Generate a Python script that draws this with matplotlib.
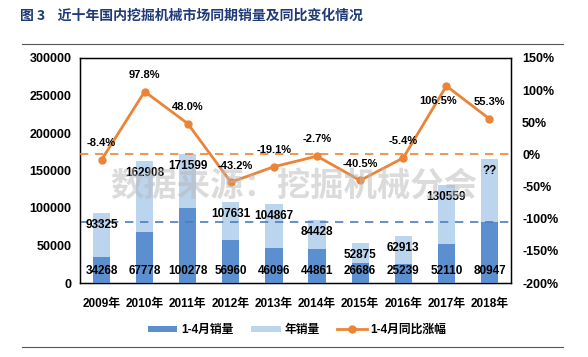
import matplotlib
matplotlib.use("Agg")
import matplotlib.pyplot as plt
import numpy as np

# data
years = ["2009年", "2010年", "2011年", "2012年", "2013年", "2014年", "2015年", "2016年", "2017年", "2018年"]
jan_apr_sales = [34268, 67778, 100278, 56960, 46096, 44861, 26686, 25239, 52110, 80947]
annual_sales = [93325, 162908, 171599, 107631, 104867, 84428, 52875, 62913, 130559, 165000]
annual_labels = ["93325", "162908", "171599", "107631", "104867", "84428", "52875", "62913", "130559", "??"]
yoy_growth = [-8.4, 97.8, 48.0, -43.2, -19.1, -2.7, -40.5, -5.4, 106.5, 55.3]

FONT = ["Liberation Sans", "Noto Sans CJK SC", "DejaVu Sans"]
plt.rcParams["font.family"] = FONT

DARK = "#5B8FD0"
LIGHT = "#BCD5EE"
ORANGE = "#EB8436"

fig = plt.figure(figsize=(5.88, 3.57), dpi=100)
ax = fig.add_axes([80 / 588, 1 - 283 / 357, 431 / 588, 225 / 357])
ax2 = ax.twinx()

x = np.arange(len(years))
w = 0.4
ax.bar(x, annual_sales, width=w, color=LIGHT, zorder=2, label="年销量")
ax.bar(x, jan_apr_sales, width=w, color=DARK, zorder=3, label="1-4月销量")

ax.set_xlim(-0.5, len(years) - 0.5)
ax.set_ylim(0, 300000)
ax.set_yticks(np.arange(0, 300001, 50000))
ax.set_xticks(x)
ax.set_xticklabels(years, fontsize=8.5, fontweight="bold")
ax.tick_params(axis="both", length=0, pad=6)
for t in ax.get_yticklabels():
    t.set_fontsize(9)
    t.set_fontweight("bold")
ax.tick_params(axis="x", pad=11)

# reference line at the 2018 Jan-Apr level
ax.axhline(jan_apr_sales[-1], color="#4A7EC0", ls=(0, (5, 4)), lw=1.2, zorder=4)

# bar labels
for i in range(len(years)):
    ax.text(x[i], annual_sales[i] - 8000, annual_labels[i], ha="center", va="top",
            fontsize=8.5, fontweight="bold", zorder=6)
    ax.text(x[i], 16000, str(jan_apr_sales[i]), ha="center", va="center",
            fontsize=8.5, fontweight="bold", zorder=6)

# growth line
ax2.plot(x, yoy_growth, color=ORANGE, lw=2, marker="o", ms=5, zorder=5,
         label="1-4月同比涨幅")
ax2.axhline(0, color=ORANGE, ls=(0, (5, 4)), lw=1.2, zorder=4)
ax2.set_ylim(-200, 150)
ax2.set_yticks(np.arange(-200, 151, 50))
ax2.set_yticklabels([f"{v}%" for v in range(-200, 151, 50)], fontsize=9, fontweight="bold")
ax2.tick_params(axis="y", length=0, pad=8)

for i, v in enumerate(yoy_growth):
    if i == 8:
        off = (-6, -11)
    elif i == 3:
        off = (3, 12)
    else:
        off = (0, 12)
    ax2.annotate(f"{v:.1f}%", (x[i], v), xytext=off, textcoords="offset points",
                 ha="center", va="center", fontsize=8, fontweight="bold", zorder=7)

for sp in ax.spines.values():
    sp.set_color("black")
    sp.set_linewidth(1)
for sp in ax2.spines.values():
    sp.set_color("black")

# watermark
fig.text(0.5, 1 - 187 / 357, "数据来源：挖掘机械分会", ha="center", va="center",
         fontsize=24, fontweight="bold", color="#b8b8b8", alpha=0.5, zorder=10,
         family=["Noto Sans CJK SC"])

# title and rules
fig.text(20 / 588, 1 - 16 / 357, "图 3    近十年国内挖掘机械市场同期销量及同比变化情况",
         ha="left", va="center", fontsize=10, fontweight="bold", color="#1F3A78",
         family=["Noto Sans CJK SC"])
fig.add_artist(plt.Line2D([22 / 588, 563 / 588], [1 - 44 / 357] * 2, color="#555555", lw=0.8))
fig.add_artist(plt.Line2D([22 / 588, 563 / 588], [1 - 347 / 357] * 2, color="#555555", lw=0.8))

# legend
h1, l1 = ax.get_legend_handles_labels()
h2, l2 = ax2.get_legend_handles_labels()
order = [1, 0]
handles = [h1[k] for k in order] + h2
labels = [l1[k] for k in order] + l2
fig.legend(handles, labels, loc="center", bbox_to_anchor=(0.505, 1 - 330 / 357), ncol=3,
           frameon=False, prop={"size": 8.5, "weight": "bold", "family": FONT},
           handlelength=2.5, handleheight=0.4, handletextpad=0.3, columnspacing=1.5)

fig.savefig("out.png", dpi=100)
